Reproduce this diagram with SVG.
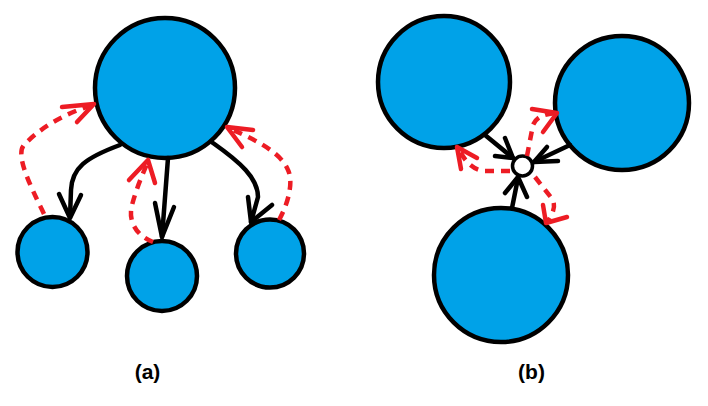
<svg xmlns="http://www.w3.org/2000/svg" width="708" height="406" viewBox="0 0 708 406">
<style>
.n{fill:#00A2E8;stroke:#000;stroke-width:4.5}
.w{fill:#fff;stroke:#000;stroke-width:3.5}
.k{fill:none;stroke:#000;stroke-width:4.5;stroke-linecap:round;stroke-linejoin:round}
.r{fill:none;stroke:#ED1C24;stroke-width:4.5;stroke-dasharray:9 7}
.rh{fill:none;stroke:#ED1C24;stroke-width:4.5;stroke-linecap:round;stroke-linejoin:round}
.t{font-family:"Liberation Sans",Arial,sans-serif;font-weight:bold;font-size:21px;text-anchor:middle;fill:#000}
</style>
<g id="a-root"><circle class="n" cx="165" cy="88" r="70"/></g>
<g id="a-left"><circle class="n" cx="52.5" cy="252" r="35"/></g>
<g id="a-mid"><circle class="n" cx="162" cy="276" r="35"/></g>
<g id="a-right"><circle class="n" cx="270" cy="253.5" r="34"/></g>
<g id="b-tl"><circle class="n" cx="444" cy="82" r="66"/></g>
<g id="b-tr"><circle class="n" cx="622" cy="103" r="67"/></g>
<g id="b-bot"><circle class="n" cx="501" cy="275" r="67"/></g>
<g id="connectors">
<path class="k" d="M120,145 C85,158 72,168 71,190 L70,217"/>
<path class="k" d="M59,194 L70,218 L81,195"/>
<path class="k" d="M168,158 L162,237"/>
<path class="k" d="M155,203 L162,237 L174,207"/>
<path class="k" d="M213,143 C240,162 258,178 258,197 L251,222"/>
<path class="k" d="M248,197 L251,222 L272,205"/>
<path class="r" d="M44,214 C30,185 15,155 24,145 C40,128 65,113 93,105"/>
<path class="rh" d="M62,107 L94,104 L77,122"/>
<path class="r" d="M153,242 C135,235 128,220 132,205 C136,190 142,175 148,162"/>
<path class="rh" d="M129,180 L148,160 L155,183"/>
<path class="r" d="M279,220 C290,200 293,180 288,170 C282,155 262,142 228,128"/>
<path class="rh" d="M253,130 L227,127 L242,147"/>
<g id="b-hub"><circle class="w" cx="522.5" cy="166" r="10"/></g>
<path class="k" d="M485,135 L513,158"/>
<path class="k" d="M505,138 L513,158 L495,156"/>
<path class="k" d="M570,145 L534,162"/>
<path class="k" d="M547,147 L534,162 L558,161"/>
<path class="k" d="M512,208 L518,178"/>
<path class="k" d="M505,193 L518,177 L527,197"/>
<path class="r" d="M510,171 L485,171 C472,170 464,160 459,149"/>
<path class="rh" d="M461,169 L457,147 L477,158"/>
<path class="r" d="M527,156 L533,125 C537,116 545,114 556,113"/>
<path class="rh" d="M532,109 L557,113 L543,132"/>
<path class="r" d="M535,177 L553,200 C556,208 552,215 547,222"/>
<path class="rh" d="M543,205 L546,223 L567,217"/>
</g>
<text class="t" x="147.5" y="379">(a)</text>
<text class="t" x="531.5" y="379">(b)</text>
</svg>
